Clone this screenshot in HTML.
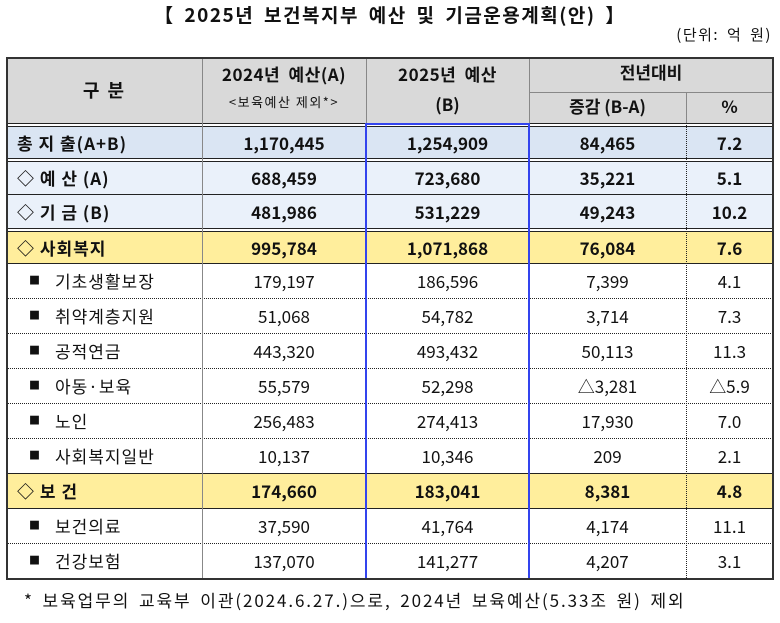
<!DOCTYPE html>
<html><head><meta charset="utf-8"><style>
body{margin:0;width:780px;height:623px;background:#fff;position:relative;overflow:hidden;font-family:"Noto Sans CJK KR","Liberation Sans",sans-serif;color:#111}
.a{position:absolute;line-height:1.2}
.r{position:absolute;left:7px;width:766px}
.c{position:absolute;top:0;height:100%;display:flex;align-items:center;justify-content:center;font-size:17px;white-space:pre;line-height:1}
.b .c{font-weight:bold}
.c0{left:0;width:195px;justify-content:flex-start;padding-left:10px;box-sizing:border-box;letter-spacing:1px}
.c1{left:195px;width:164px}.c2{left:359px;width:163px}.c3{left:522px;width:157px}.c4{left:679px;width:87px}
.h{position:absolute;left:7px;width:766px;height:0;border-top:1px solid #222}
.d{border-top:1px dotted #222}
.v{position:absolute;width:0;border-left:1px solid #888}
.sub .c0{padding-left:22px}
.sq{font-size:11px;margin-right:14px}
</style></head><body>
<div class="a" style="left:0;width:780px;top:4px;text-align:center;font-size:19px;font-weight:bold;letter-spacing:1.5px;word-spacing:4px">【 2025년 보건복지부 예산 및 기금운용계획(안) 】</div>
<div class="a" style="right:8px;top:26px;font-size:15px;letter-spacing:1.5px;word-spacing:3px">(단위: 억 원)</div>

<div class="a" style="left:7px;top:58px;width:766px;height:66px;background:#d9d9d9"></div>
<div class="a" style="left:7px;top:126px;width:766px;height:33px;background:#dae5f3"></div>
<div class="a" style="left:7px;top:161px;width:766px;height:68px;background:#eaf1fa"></div>
<div class="a" style="left:7px;top:231px;width:766px;height:32px;background:#ffee9c"></div>
<div class="a" style="left:7px;top:473px;width:766px;height:35px;background:#ffee9c"></div>

<div class="a" style="left:7px;top:58px;width:195px;height:65px;display:flex;align-items:center;justify-content:center;font-size:18px;font-weight:bold;letter-spacing:2px">구 분</div>
<div class="a" style="left:202px;top:64px;width:164px;text-align:center;font-size:17px;font-weight:bold;letter-spacing:0.5px;word-spacing:4px">2024년 예산(A)</div>
<div class="a" style="left:202px;top:94px;width:164px;text-align:center;font-size:13px;letter-spacing:1.5px">&lt;보육예산 제외*&gt;</div>
<div class="a" style="left:366px;top:64px;width:163px;text-align:center;font-size:17px;font-weight:bold;letter-spacing:0.5px;word-spacing:4px">2025년 예산</div>
<div class="a" style="left:366px;top:94px;width:163px;text-align:center;font-size:17px;font-weight:bold">(B)</div>
<div class="a" style="left:529px;top:62px;width:244px;text-align:center;font-size:17px;font-weight:bold">전년대비</div>
<div class="a" style="left:529px;top:96px;width:157px;text-align:center;font-size:17px;font-weight:bold">증감 (B-A)</div>
<div class="a" style="left:686px;top:96px;width:87px;text-align:center;font-size:17px;font-weight:bold">%</div>

<div class="r b" style="top:126px;height:33px"><div class="c c0">총 지 출(A+B)</div><div class="c c1">1,170,445</div><div class="c c2">1,254,909</div><div class="c c3">84,465</div><div class="c c4">7.2</div></div>
<div class="r b" style="top:161px;height:33px"><div class="c c0">◇ 예 산 (A)</div><div class="c c1">688,459</div><div class="c c2">723,680</div><div class="c c3">35,221</div><div class="c c4">5.1</div></div>
<div class="r b" style="top:194px;height:34px"><div class="c c0">◇ 기 금 (B)</div><div class="c c1">481,986</div><div class="c c2">531,229</div><div class="c c3">49,243</div><div class="c c4">10.2</div></div>
<div class="r b" style="top:231px;height:32px"><div class="c c0">◇ 사회복지</div><div class="c c1">995,784</div><div class="c c2">1,071,868</div><div class="c c3">76,084</div><div class="c c4">7.6</div></div>
<div class="r sub" style="top:263px;height:35px"><div class="c c0"><span class="sq">■</span>기초생활보장</div><div class="c c1">179,197</div><div class="c c2">186,596</div><div class="c c3">7,399</div><div class="c c4">4.1</div></div>
<div class="r sub" style="top:298px;height:35px"><div class="c c0"><span class="sq">■</span>취약계층지원</div><div class="c c1">51,068</div><div class="c c2">54,782</div><div class="c c3">3,714</div><div class="c c4">7.3</div></div>
<div class="r sub" style="top:333px;height:35px"><div class="c c0"><span class="sq">■</span>공적연금</div><div class="c c1">443,320</div><div class="c c2">493,432</div><div class="c c3">50,113</div><div class="c c4">11.3</div></div>
<div class="r sub" style="top:368px;height:35px"><div class="c c0"><span class="sq">■</span>아동·보육</div><div class="c c1">55,579</div><div class="c c2">52,298</div><div class="c c3">△3,281</div><div class="c c4">△5.9</div></div>
<div class="r sub" style="top:403px;height:35px"><div class="c c0"><span class="sq">■</span>노인</div><div class="c c1">256,483</div><div class="c c2">274,413</div><div class="c c3">17,930</div><div class="c c4">7.0</div></div>
<div class="r sub" style="top:438px;height:35px"><div class="c c0"><span class="sq">■</span>사회복지일반</div><div class="c c1">10,137</div><div class="c c2">10,346</div><div class="c c3">209</div><div class="c c4">2.1</div></div>
<div class="r b" style="top:473px;height:35px"><div class="c c0">◇ 보 건</div><div class="c c1">174,660</div><div class="c c2">183,041</div><div class="c c3">8,381</div><div class="c c4">4.8</div></div>
<div class="r sub" style="top:508px;height:35px"><div class="c c0"><span class="sq">■</span>보건의료</div><div class="c c1">37,590</div><div class="c c2">41,764</div><div class="c c3">4,174</div><div class="c c4">11.1</div></div>
<div class="r sub" style="top:543px;height:35px"><div class="c c0"><span class="sq">■</span>건강보험</div><div class="c c1">137,070</div><div class="c c2">141,277</div><div class="c c3">4,207</div><div class="c c4">3.1</div></div>

<div class="h" style="top:92px;left:529px;width:244px;border-color:#888"></div>
<div class="h" style="top:123px"></div><div class="h" style="top:126px"></div>
<div class="h" style="top:158px"></div><div class="h" style="top:161px"></div>
<div class="h" style="top:194px"></div>
<div class="h" style="top:228px"></div><div class="h" style="top:231px"></div>
<div class="h" style="top:263px"></div>
<div class="h d" style="top:298px"></div><div class="h d" style="top:333px"></div><div class="h d" style="top:368px"></div><div class="h d" style="top:403px"></div><div class="h d" style="top:438px"></div>
<div class="h" style="top:473px"></div><div class="h" style="top:508px"></div>
<div class="h d" style="top:543px"></div>

<div class="v" style="left:202px;top:58px;height:520px"></div>
<div class="v" style="left:366px;top:58px;height:65px"></div>
<div class="v" style="left:529px;top:58px;height:520px"></div>
<div class="v" style="left:686px;top:92px;height:31px"></div>
<div class="v" style="left:686px;top:123px;height:455px;border-left:1px dotted #222"></div>

<div class="a" style="left:365px;top:123px;width:161px;height:453px;border:2px solid #3344ee"></div>
<div class="a" style="left:6px;top:57px;width:764px;height:519px;border:2px solid #333"></div>

<div class="a" style="left:24px;top:590px;font-size:17px;letter-spacing:1.9px;word-spacing:3px;white-space:nowrap">*  보육업무의 교육부 이관(2024.6.27.)으로, 2024년 보육예산(5.33조 원) 제외</div>
</body></html>
